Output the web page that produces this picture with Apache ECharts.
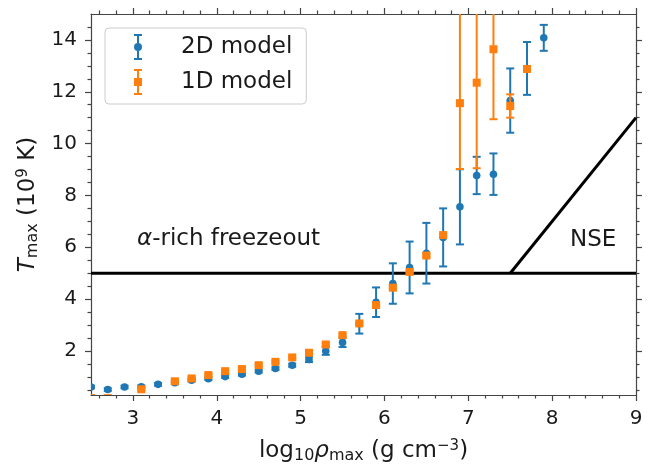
<!DOCTYPE html>
<html><head><meta charset="utf-8">
<script src="https://cdn.jsdelivr.net/npm/echarts@6/dist/echarts.min.js"></script>
<style>html,body{margin:0;padding:0;background:#fff}#c{width:668px;height:466px}</style>
</head><body><div id="c"></div>
<script>
// ---- data ----
const blueX   = [2.5,2.7,2.9,3.1,3.3,3.5,3.7,3.9,4.1,4.3,4.5,4.7,4.9,5.1,5.3,5.5,5.7,5.9,6.1,6.3,6.5,6.7,6.9,7.1,7.3,7.5,7.7,7.9];
const blueY   = [0.61,0.51,0.61,0.62,0.71,0.77,0.87,0.93,1.01,1.10,1.22,1.32,1.45,1.67,2.00,2.33,3.05,3.88,4.60,5.22,5.77,6.38,7.56,8.77,8.82,11.66,12.90,14.08];
const blueErr = [0.05,0.05,0.05,0.05,0.05,0.05,0.05,0.05,0.05,0.05,0.05,0.05,0.06,0.10,0.15,0.18,0.38,0.57,0.78,1.00,1.17,1.12,1.45,0.72,0.80,1.24,1.02,0.50];

const orangeX     = [2.5,2.7,3.1,3.5,3.7,3.9,4.1,4.3,4.5,4.7,4.9,5.1,5.3,5.5,5.7,5.9,6.1,6.3,6.5,6.7,6.9,7.1,7.3,7.5,7.7];
const orangeY     = [0.18,0.18,0.52,0.83,0.94,1.07,1.22,1.30,1.45,1.58,1.75,1.93,2.25,2.61,3.06,3.77,4.44,5.05,5.68,6.47,11.56,12.35,13.64,11.45,12.88];
const orangeErrLo = [0.05,0.05,0.05,0.05,0.05,0.05,0.05,0.05,0.05,0.05,0.05,0.05,0.05,0.05,0.05,0.05,0.05,0.05,0.05,0.05,2.54,3.30,2.70,0.45,0.10];
const orangeErrHi = [0.05,0.05,0.05,0.05,0.05,0.05,0.05,0.05,0.05,0.05,0.05,0.05,0.05,0.05,0.05,0.05,0.05,0.05,0.05,0.05,6.00,6.00,6.00,0.45,0.10];

const freezeLine = [[2.5,5],[9,5]];
const nseLine    = [[7.5,5],[9,11]];

const annoText = ['{a|α}-rich freezeout', 'NSE'];
const annoX    = [4.14, 8.49];
const annoY    = [6.30, 6.28];

const xMajor = [3,4,5,6,7,8,9];
const yMajor = [2,4,6,8,10,12,14];
const xMinor = [];
for (let k = 13; k <= 44; k++) { const v = +(k*0.2).toFixed(1); if (Math.abs(v - Math.round(v)) > 1e-6) xMinor.push(v); }
const yMinor = [];
for (let k = 1; k <= 29; k++) { const v = k*0.5; if (v % 2 !== 0) yMinor.push(v); }

const X_MIN = 2.5, X_MAX = 9, Y_MIN = 0.3, Y_MAX = 15;
// ---- chart ----
const FONT = 'DejaVu Sans';
const TXT = '#1a1a1a';
const AX = '#444';
const BLUE = '#1f77b4', ORANGE = '#ff7f0e';

function xAx(pos, vals, len, labels, line, extra) {
  return Object.assign({
    type:'value', position:pos, min:X_MIN, max:X_MAX,
    axisLine:{show:line, onZero:false, lineStyle:{color:AX, width:1.2}},
    axisTick:{show:true, inside:false, length:len, customValues:vals, lineStyle:{color:AX, width:1.2}},
    axisLabel:{show:labels, customValues:vals, fontSize:20, color:TXT, fontFamily:FONT, margin:14},
    splitLine:{show:false}
  }, extra || {});
}
function yAx(pos, vals, len, labels, line, extra) {
  return Object.assign({
    type:'value', position:pos, min:Y_MIN, max:Y_MAX,
    axisLine:{show:line, onZero:false, lineStyle:{color:AX, width:1.2}},
    axisTick:{show:true, inside:false, length:len, customValues:vals, lineStyle:{color:AX, width:1.2}},
    axisLabel:{show:labels, customValues:vals, fontSize:20, color:TXT, fontFamily:FONT, margin:14},
    splitLine:{show:false}
  }, extra || {});
}

function errRender(kind, color) {
  return function (params, api) {
    const x = api.value(0), y = api.value(1), lo = api.value(2), hi = api.value(3);
    const c = api.coord([x, y]);
    const b = api.coord([x, y - lo]);
    const t = api.coord([x, y + hi]);
    const cap = 4;
    const ls = {stroke: color, lineWidth: 2};
    const marker = kind === 'circle'
      ? {type:'circle', shape:{cx:c[0], cy:c[1], r:3.8}, style:{fill:color}}
      : {type:'rect', shape:{x:c[0]-4, y:c[1]-4, width:8, height:8}, style:{fill:color}};
    return {type:'group', children:[
      {type:'line', shape:{x1:c[0], y1:b[1], x2:c[0], y2:t[1]}, style:ls},
      {type:'line', shape:{x1:c[0]-cap, y1:b[1], x2:c[0]+cap, y2:b[1]}, style:ls},
      {type:'line', shape:{x1:c[0]-cap, y1:t[1], x2:c[0]+cap, y2:t[1]}, style:ls},
      marker
    ]};
  };
}

const nameRich = {
  s:{fontSize:16, fontFamily:FONT, color:TXT, padding:[9,0,0,0]},
  p:{fontSize:15, fontFamily:FONT, color:TXT, padding:[0,0,10,0]},
  i:{fontSize:23, fontFamily:FONT, color:TXT, fontStyle:'italic'}
};

const chart = echarts.init(document.getElementById('c'), null, {renderer:'canvas'});
chart.setOption({
  animation:false,
  backgroundColor:'#fff',
  grid:{left:91, right:32, top:14, bottom:71, containLabel:false, outerBoundsMode:'none'},
  xAxis:[
    xAx('bottom', xMajor, 6, true, true, {
      name:'log{s|10}{i|ρ}{s|max} (g cm{p|−3})', nameLocation:'middle', nameGap:44,
      nameTextStyle:{fontSize:23, fontFamily:FONT, color:TXT, rich:nameRich}
    }),
    xAx('bottom', xMinor, 3.5, false, false),
    xAx('top', xMajor, 6, false, true),
    xAx('top', xMinor, 3.5, false, false)
  ],
  yAxis:[
    yAx('left', yMajor, 6, true, true, {
      name:'{i|T}{s|max} (10{p|9} K)', nameLocation:'middle', nameGap:50, nameRotate:90,
      nameTextStyle:{fontSize:23, fontFamily:FONT, color:TXT, rich:nameRich}
    }),
    yAx('left', yMinor, 3.5, false, false),
    yAx('right', yMajor, 6, false, true),
    yAx('right', yMinor, 3.5, false, false)
  ],
  legend:{
    orient:'vertical', left:105, top:28, itemWidth:20, itemHeight:26, itemGap:9,
    padding:[6,14,9,29],
    borderColor:'#cccccc', borderWidth:1, borderRadius:4, backgroundColor:'rgba(255,255,255,0.85)',
    textStyle:{fontSize:23, fontFamily:FONT, color:TXT, padding:[0,0,0,28]},
    data:[
      {name:'2D model', icon:'path://M4,0h8v2h-8z M7,0h2v26h-2z M4,24h8v2h-8z M4,13a4,4 0 1,1 8,0a4,4 0 1,1 -8,0z'},
      {name:'1D model', icon:'path://M4,0h8v2h-8z M7,0h2v26h-2z M4,24h8v2h-8z M4,9h8v8h-8z'}
    ]
  },
  series:[
    {type:'line', name:'freeze', data:freezeLine, symbol:'none', z:1, silent:true,
     lineStyle:{color:'#000', width:3}},
    {type:'line', name:'nse', data:nseLine, symbol:'none', z:1, silent:true,
     lineStyle:{color:'#000', width:3}},
    {type:'custom', name:'2D model', z:3, clip:true, itemStyle:{color:BLUE},
     renderItem:errRender('circle', BLUE),
     encode:{x:0, y:1},
     data:blueX.map((x,i)=>[x, blueY[i], blueErr[i], blueErr[i]])},
    {type:'custom', name:'1D model', z:4, clip:true, itemStyle:{color:ORANGE},
     renderItem:errRender('square', ORANGE),
     encode:{x:0, y:1},
     data:orangeX.map((x,i)=>[x, orangeY[i], orangeErrLo[i], orangeErrHi[i]])},
    {type:'custom', name:'annotations', z:5, silent:true,
     renderItem:function(params, api){
       const i = params.dataIndex;
       const c = api.coord([api.value(0), api.value(1)]);
       return {type:'text', x:c[0], y:c[1], style:{
         text:annoText[i], fontSize:23, fontFamily:FONT, fill:TXT,
         align:'center', verticalAlign:'middle',
         rich:{a:{fontSize:23, fontFamily:FONT, fontStyle:'italic', fill:TXT}}
       }};
     },
     encode:{x:0, y:1},
     data:annoX.map((x,i)=>[x, annoY[i]])}
  ]
});
</script>
</body></html>
